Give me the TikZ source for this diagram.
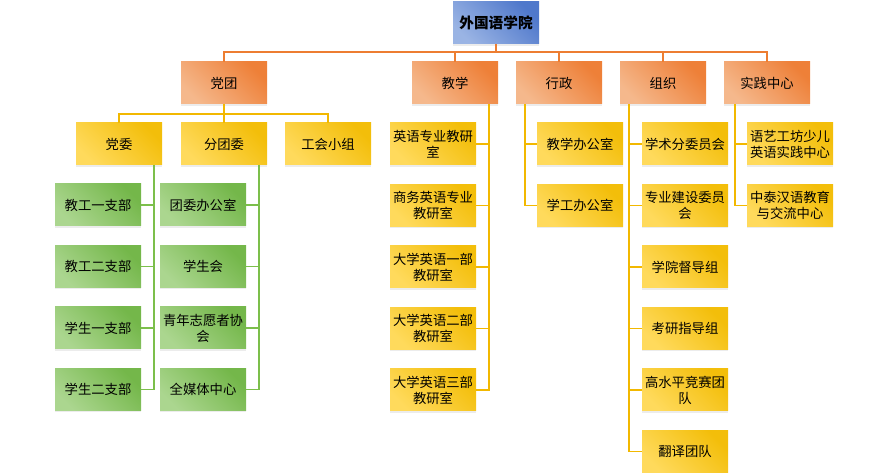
\documentclass[tikz,border=0pt]{standalone}
\usepackage{fontspec}
\setmainfont{Noto Sans CJK SC}
\usetikzlibrary{shadows}
\definecolor{oA}{HTML}{F5B88C}\definecolor{oB}{HTML}{EE8038}
\definecolor{yA}{HTML}{FFDA5C}\definecolor{yB}{HTML}{F3BE0A}
\definecolor{gA}{HTML}{ABD68F}\definecolor{gB}{HTML}{74B74A}
\definecolor{bA}{HTML}{9AB4E4}\definecolor{bB}{HTML}{4F78CB}
\definecolor{lo}{HTML}{ED7D31}\definecolor{ly}{HTML}{F2B800}\definecolor{lg}{HTML}{7CBF4B}
\begin{document}
\begin{tikzpicture}[x=0.75pt,y=-0.75pt,
 box/.style={draw=none,minimum width=64.5pt,minimum height=31.5pt,align=center,inner sep=0pt,font=\fontsize{10pt}{12pt}\selectfont,drop shadow={opacity=0.15,shadow xshift=0pt,shadow yshift=-1.5pt}},
 ob/.style={box,left color=oA,right color=oB,shading angle=135},
 yb/.style={box,left color=yA,right color=yB,shading angle=135},
 gb/.style={box,left color=gA,right color=gB,shading angle=135},
 bb/.style={box,left color=bA,right color=bB,shading angle=135,font=\bfseries\fontsize{11pt}{13pt}\selectfont},
 lO/.style={draw=lo,line width=0.8pt},lY/.style={draw=ly,line width=0.8pt},lG/.style={draw=lg,line width=0.8pt}]
\useasboundingbox (0,0) rectangle (888,473);
\node[bb] (root) at (496,23) {外国语学院};
\node[ob] (dt) at (224,83) {党团};
\node[ob] (jx) at (455,83) {教学};
\node[ob] (xz) at (559,83) {行政};
\node[ob] (zz) at (663,83) {组织};
\node[ob] (sj) at (767,83) {实践中心};
\foreach \n in {dt,jx,xz,zz,sj} \draw[lO] (root.south) |- (\n.north |- 0,52) -- (\n.north);
\node[yb] (dw) at (119,144) {党委};
\node[yb] (ftw) at (224,144) {分团委};
\node[yb] (gh) at (328,144) {工会小组};
\foreach \n in {dw,ftw,gh} \draw[lY] (dt.south) |- (\n.north |- 0,114) -- (\n.north);
% green
\foreach \t [count=\i] in {教工一支部,教工二支部,学生一支部,学生二支部}
 \node[gb] (a\i) at (98,{205+61.5*(\i-1)}) {\t};
\foreach \t [count=\i] in {团委办公室,学生会,{青年志愿者协\\会},全媒体中心}
 \node[gb] (b\i) at (203,{205+61.5*(\i-1)}) {\t};
\foreach \i in {1,...,4}{
 \draw[lG] (dw.south -| 154,0) |- (a\i.east);
 \draw[lG] (ftw.south -| 259,0) |- (b\i.east);}
% 教学
\foreach \t [count=\i] in {{英语专业教研\\室},{商务英语专业\\教研室},{大学英语一部\\教研室},{大学英语二部\\教研室},{大学英语三部\\教研室}}
 \node[yb] (c\i) at (433,{144+61.5*(\i-1)}) {\t};
\foreach \i in {1,...,5} \draw[lY] (jx.south -| 489,0) |- (c\i.east);
% 行政
\node[yb] (d1) at (580,144) {教学办公室};
\node[yb] (d2) at (580,205.5) {学工办公室};
\foreach \i in {1,2} \draw[lY] (xz.south -| 525,0) |- (d\i.west);
% 组织
\foreach \t [count=\i] in {学术分委员会,{专业建设委员\\会},学院督导组,考研指导组,{高水平竞赛团\\队},翻译团队}
 \node[yb] (e\i) at (685,{144+61.5*(\i-1)}) {\t};
\foreach \i in {1,...,6} \draw[lY] (zz.south -| 629,0) |- (e\i.west);
% 实践
\node[yb] (f1) at (790,144) {语艺工坊少儿\\英语实践中心};
\node[yb] (f2) at (790,205.5) {中泰汉语教育\\与交流中心};
\foreach \i in {1,2} \draw[lY] (sj.south -| 735,0) |- (f\i.west);
\end{tikzpicture}
\end{document}
